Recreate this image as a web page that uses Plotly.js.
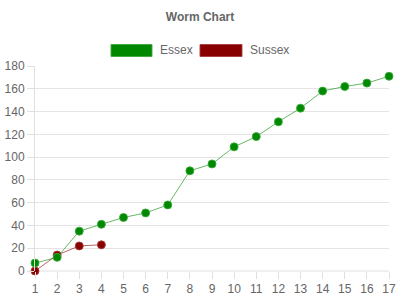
<!DOCTYPE html>
<html>
<head>
<meta charset="utf-8">
<script src="https://cdn.plot.ly/plotly-3.0.1.min.js"></script>
<style>html,body{margin:0;padding:0;background:#fff;}#chart{width:400px;height:300px;}</style>
</head>
<body>
<div id="chart"></div>
<script>
var overs = [1,2,3,4,5,6,7,8,9,10,11,12,13,14,15,16,17];
var essex = [7,12,35,41,47,51,58,88,94,109,118,131,143,158,162,165,171];
var sussexOvers = [1,2,3,4];
var sussex = [0,14,22,23];
var seriesNames = ['Essex','Sussex'];
var seriesColors = ['rgb(0,136,0)','rgb(136,0,0)'];
var lineColors = ['rgba(0,136,0,0.6)','rgba(136,0,0,0.6)'];
var borderColors = ['rgba(60,170,60,0.9)','rgba(170,60,60,0.9)'];

var L = 35, R = 389, T = 66, B = 271;
function px(x){ return (x - L) / (R - L); }
function py(y){ return (B - y) / (B - T); }

// Sussex drawn first so that Essex sits on top, as in the reference
var traces = [
  {x: sussexOvers, y: sussex, name: seriesNames[1], mode: 'lines+markers',
   line: {color: lineColors[1], width: 1},
   marker: {color: seriesColors[1], size: 8, line: {color: borderColors[1], width: 1}},
   cliponaxis: false, showlegend: false},
  {x: overs, y: essex, name: seriesNames[0], mode: 'lines+markers',
   line: {color: lineColors[0], width: 1},
   marker: {color: seriesColors[0], size: 8, line: {color: borderColors[0], width: 1}},
   cliponaxis: false, showlegend: false}
];

var legendBoxes = [[111,152],[200,242]];
var legendText = [158,248];
var shapes = [], annotations = [];
for (var i = 0; i < 2; i++) {
  shapes.push({type:'rect', xref:'paper', yref:'paper',
    x0: px(legendBoxes[i][0]), x1: px(legendBoxes[i][1]), y0: py(56.5), y1: py(44.5),
    fillcolor: seriesColors[i], line: {color: borderColors[i], width: 1}});
  annotations.push({xref:'paper', yref:'paper', x: px(legendText[i]), y: py(50.5),
    xanchor:'left', yanchor:'middle', text: seriesNames[i], showarrow:false,
    font:{family:'Liberation Sans, Arial, sans-serif', size:12, color:'#666'}});
}

var layout = {
  width: 400, height: 300,
  margin: {l: L, r: 400 - R, t: T, b: 300 - B},
  paper_bgcolor: '#fff', plot_bgcolor: '#fff',
  title: {text: '<b>Worm Chart</b>', x: 0.5, xref: 'container', xanchor: 'center',
    y: 1 - 17/300, yref: 'container', yanchor: 'middle',
    font: {family: 'Liberation Sans, Arial, sans-serif', size: 12, color: '#666'}},
  font: {family: 'Liberation Sans, Arial, sans-serif', size: 12, color: '#666'},
  showlegend: false,
  xaxis: {range: [1, 17], tickmode: 'array', tickvals: overs, ticktext: overs.map(String),
    showgrid: false, zeroline: false, showline: false,
    ticks: 'outside', ticklen: 7, tickcolor: '#e0e0e0', tickwidth: 1,
    tickfont: {size: 12, color: '#666'}, fixedrange: true},
  yaxis: {range: [0, 180], tick0: 0, dtick: 20, showgrid: true, gridcolor: '#e4e4e4', gridwidth: 1,
    zeroline: false, showline: true, linecolor: '#e0e0e0', linewidth: 1,
    ticks: 'outside', ticklen: 7, tickcolor: '#e0e0e0', tickwidth: 1,
    tickfont: {size: 12, color: '#666'}, fixedrange: true},
  shapes: shapes.concat([{type:'line', xref:'paper', yref:'paper', x0: px(28), x1: 1, y0: 0, y1: 0,
    line:{color:'#e0e0e0', width:1}, layer:'below'}]),
  annotations: annotations
};
Plotly.newPlot('chart', traces, layout, {displayModeBar: false, staticPlot: true});
</script>
</body>
</html>
